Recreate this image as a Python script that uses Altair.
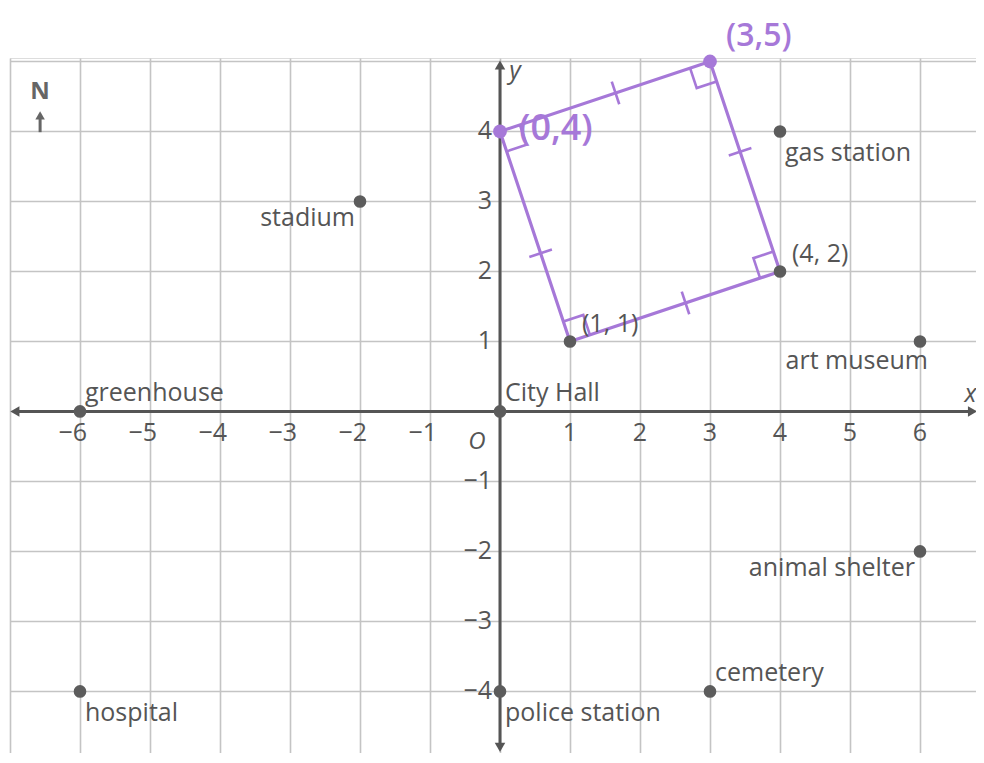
import altair as alt
import numpy as np
import pandas as pd

# ---------------- data ----------------
place_labels = ["greenhouse", "stadium", "City Hall", "gas station", "(4, 2)",
                "art museum", "animal shelter", "cemetery", "police station",
                "hospital", "(1, 1)"]
place_x = [-6, -2, 0, 4, 4, 6, 6, 3, 0, -6, 1]
place_y = [0, 3, 0, 4, 2, 1, -2, -4, -4, -4, 1]
place_side = ["ne", "sw", "ne", "se", "ne2", "s", "sw", "ne", "se", "se", "ne2"]

# purple square drawn by hand
sq_x = [0, 3, 4, 1]
sq_y = [4, 5, 2, 1]
hand_labels = ["(0,4)", "(3,5)"]
hand_x = [0, 3]
hand_y = [4, 5]
tick_frac = [0.55, 0.43, 0.45, 0.42]   # where the hash marks sit on each side

xtick_vals = [-6, -5, -4, -3, -2, -1, 1, 2, 3, 4, 5, 6]
ytick_vals = [-4, -3, -2, -1, 1, 2, 3, 4]

# ---------------- styles ----------------
GRAY = "#555555"
PURPLE = "#a678d8"
FONT = "Open Sans"
FS = 25

X = alt.Scale(domain=[-7, 6.8], nice=False, zero=False)
Y = alt.Scale(domain=[-4.88, 5.05], nice=False, zero=False)

xaxis = alt.Axis(values=list(range(-7, 7)), grid=True, labels=False, ticks=False,
                 domain=False, title=None, gridColor="#c4c4c4", gridWidth=1.6)
yaxis = alt.Axis(values=list(range(-4, 6)), grid=True, labels=False, ticks=False,
                 domain=False, title=None, gridColor="#c4c4c4", gridWidth=1.6)

places = pd.DataFrame({"label": place_labels, "x": place_x, "y": place_y,
                       "side": place_side})

# base with the grid
grid = alt.Chart(places).mark_point(opacity=0).encode(
    x=alt.X("x:Q", scale=X, axis=xaxis),
    y=alt.Y("y:Q", scale=Y, axis=yaxis),
)

# coordinate axes
axes_df = pd.DataFrame({"x1": [-6.93, 0], "x2": [6.75, 0],
                        "y1": [0, -4.8], "y2": [0, 4.95]})
axes = alt.Chart(axes_df).mark_rule(color="#555555", strokeWidth=3).encode(
    x=alt.X("x1:Q", scale=X), x2="x2:Q",
    y=alt.Y("y1:Q", scale=Y), y2="y2:Q")

arrows_df = pd.DataFrame({"x": [-6.93, 6.75, 0, 0], "y": [0, 0, 4.95, -4.8],
                          "shape": ["triangle-left", "triangle-right",
                                    "triangle-up", "triangle-down"]})
arrows = alt.Chart(arrows_df).mark_point(filled=True, size=110, color="#555555",
                                         opacity=1).encode(
    x=alt.X("x:Q", scale=X), y=alt.Y("y:Q", scale=Y),
    shape=alt.Shape("shape:N", scale=None))

# tick labels
xt = pd.DataFrame({"v": xtick_vals, "t": [str(v).replace("-", "\u2212") for v in xtick_vals],
                   "z": 0})
xt_neg = alt.Chart(xt[xt.v < 0]).mark_text(font=FONT, fontSize=FS, color=GRAY,
                                           align="right", baseline="middle",
                                           dx=7, dy=22).encode(
    x=alt.X("v:Q", scale=X), y=alt.Y("z:Q", scale=Y), text="t:N")
xt_pos = alt.Chart(xt[xt.v > 0]).mark_text(font=FONT, fontSize=FS, color=GRAY,
                                           align="center", baseline="middle",
                                           dy=22).encode(
    x=alt.X("v:Q", scale=X), y=alt.Y("z:Q", scale=Y), text="t:N")
yt = pd.DataFrame({"v": ytick_vals, "t": [str(v).replace("-", "\u2212") for v in ytick_vals],
                   "z": 0})
yt_lab = alt.Chart(yt).mark_text(font=FONT, fontSize=FS, color=GRAY,
                                 align="right", baseline="middle", dx=-8).encode(
    x=alt.X("z:Q", scale=X), y=alt.Y("v:Q", scale=Y), text="t:N")

misc_df = pd.DataFrame({"x": [0], "y": [0]})
origin = alt.Chart(misc_df).mark_text(text="O", font=FONT, fontSize=24, fontStyle="italic",
                                      color=GRAY, dx=-23, dy=31).encode(
    x=alt.X("x:Q", scale=X), y=alt.Y("y:Q", scale=Y))
xtitle = alt.Chart(pd.DataFrame({"x": [6.72], "y": [0]})).mark_text(
    text="x", font=FONT, fontSize=25, fontStyle="italic", color=GRAY, dy=-17).encode(
    x=alt.X("x:Q", scale=X), y=alt.Y("y:Q", scale=Y))
ytitle = alt.Chart(pd.DataFrame({"x": [0], "y": [4.86]})).mark_text(
    text="y", font=FONT, fontSize=25, fontStyle="italic", color=GRAY, dx=15).encode(
    x=alt.X("x:Q", scale=X), y=alt.Y("y:Q", scale=Y))

# north arrow
north_txt = alt.Chart(pd.DataFrame({"x": [-6.57], "y": [4.57]})).mark_text(
    text="N", font=FONT, fontSize=24, fontWeight="bold", color="#666666").encode(
    x=alt.X("x:Q", scale=X), y=alt.Y("y:Q", scale=Y))
north_stem = alt.Chart(pd.DataFrame({"x": [-6.57], "y1": [3.99], "y2": [4.2]})).mark_rule(
    color="#666666", strokeWidth=3).encode(
    x=alt.X("x:Q", scale=X), y=alt.Y("y1:Q", scale=Y), y2="y2:Q")
north_head = alt.Chart(pd.DataFrame({"x": [-6.57], "y": [4.23]})).mark_point(
    shape="triangle-up", filled=True, size=90, color="#666666", opacity=1).encode(
    x=alt.X("x:Q", scale=X), y=alt.Y("y:Q", scale=Y))

# purple square
V = np.array(list(zip(sq_x, sq_y)), dtype=float)
loop = pd.DataFrame({"x": list(sq_x) + [sq_x[0]], "y": list(sq_y) + [sq_y[0]],
                     "i": list(range(len(sq_x) + 1))})
square = alt.Chart(loop).mark_line(color=PURPLE, strokeWidth=3.2).encode(
    x=alt.X("x:Q", scale=X), y=alt.Y("y:Q", scale=Y), order="i:Q")

# hash marks on the sides
rows = []
n = len(V)
for i in range(n):
    A, B = V[i], V[(i + 1) % n]
    d = (B - A) / np.linalg.norm(B - A)
    perp = np.array([-d[1], d[0]])
    P = A + tick_frac[i] * (B - A)
    for k, sgn in enumerate([-1, 1]):
        q = P + sgn * 0.17 * perp
        rows.append({"id": f"t{i}", "k": k, "x": q[0], "y": q[1]})
# right-angle marks
s = 0.3
for i in range(n):
    Vv, Pp, Nn = V[i], V[i - 1], V[(i + 1) % n]
    u1 = (Pp - Vv) / np.linalg.norm(Pp - Vv)
    u2 = (Nn - Vv) / np.linalg.norm(Nn - Vv)
    for k, q in enumerate([Vv + s * u1, Vv + s * u1 + s * u2, Vv + s * u2]):
        rows.append({"id": f"r{i}", "k": k, "x": q[0], "y": q[1]})
marks_df = pd.DataFrame(rows)
marks = alt.Chart(marks_df).mark_line(color=PURPLE, strokeWidth=2.6).encode(
    x=alt.X("x:Q", scale=X), y=alt.Y("y:Q", scale=Y), detail="id:N", order="k:Q")

# points
pts = alt.Chart(places).mark_circle(size=160, color="#5c5c5c", opacity=1).encode(
    x=alt.X("x:Q", scale=X), y=alt.Y("y:Q", scale=Y))
hand = pd.DataFrame({"label": hand_labels, "x": hand_x, "y": hand_y})
hand_pts = alt.Chart(hand).mark_circle(size=190, color=PURPLE, opacity=1).encode(
    x=alt.X("x:Q", scale=X), y=alt.Y("y:Q", scale=Y))

# place labels
side_style = {
    "ne": dict(align="left", dx=5, dy=-18),
    "ne2": dict(align="left", dx=12, dy=-17),
    "se": dict(align="left", dx=5, dy=22),
    "sw": dict(align="right", dx=-5, dy=17),
    "s": dict(align="right", dx=8, dy=20),
}
label_layers = []
for side, st in side_style.items():
    label_layers.append(
        alt.Chart(places[places.side == side]).mark_text(
            font=FONT, fontSize=FS, color=GRAY, baseline="middle", **st).encode(
            x=alt.X("x:Q", scale=X), y=alt.Y("y:Q", scale=Y), text="label:N"))

hand_styles = [dict(dx=19, dy=-2, fontSize=36), dict(dx=16, dy=-25, fontSize=32)]
hand_layers = []
for i, st in enumerate(hand_styles):
    hand_layers.append(
        alt.Chart(hand.iloc[[i]]).mark_text(
            font="Open Sans", fontWeight=600, color=PURPLE, align="left",
            baseline="middle", **st).encode(
            x=alt.X("x:Q", scale=X), y=alt.Y("y:Q", scale=Y), text="label:N"))

chart = alt.layer(
    grid, axes, arrows, xt_neg, xt_pos, yt_lab, origin, xtitle, ytitle,
    north_txt, north_stem, north_head, square, marks, pts, hand_pts,
    *label_layers, *hand_layers
).properties(
    width=966, height=695, autosize="none",
    padding={"left": 2, "top": 50, "right": 0, "bottom": 0},
).configure_view(stroke=None).configure(background="white")

chart.save("out.html", embed_options={"renderer": "svg", "actions": False})
